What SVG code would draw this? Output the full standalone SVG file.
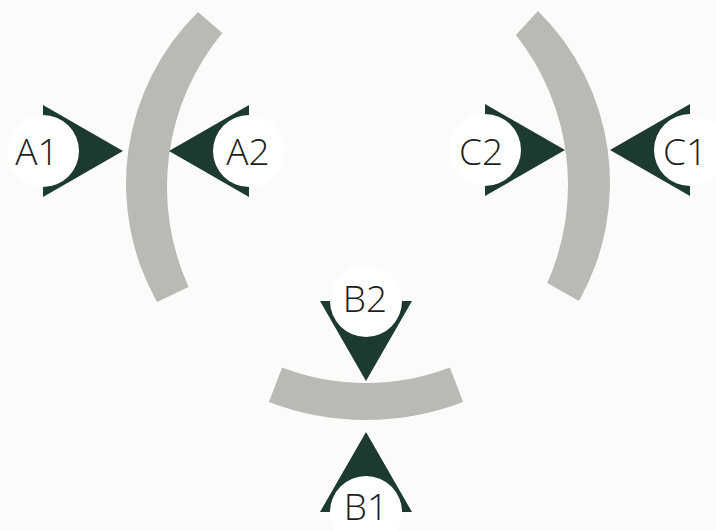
<svg xmlns="http://www.w3.org/2000/svg" xmlns:xlink="http://www.w3.org/1999/xlink" width="716" height="530" viewBox="0 0 716 530">
  <style>
    .band { fill: #b8bbb5; }
    .head { fill: #1d3a2e; }
    .disc { fill: #ffffff; }
    .lbl { font-family: "Open Sans", "Liberation Sans", sans-serif; font-weight: 300; font-size: 37px; fill: #1e1e1e; text-anchor: middle; }
  </style>
  <defs>
    <path id="arrow" class="head" d="M0,-46 L80,0 L0,46 L0,36 A36 36 0 0 0 0,-36 Z"/>
  </defs>
  <rect width="716" height="530" fill="#fbfbfa"/>

  <g id="arcs">
    <path id="arc-A" class="band" d="M198,12 A241 241 0 0 0 157,302 L188.6,287 A242 242 0 0 1 222.3,33 Z"/>
    <path id="arc-C" class="band" d="M538,11 A241 241 0 0 1 579,301 L547.3,283 A242 242 0 0 0 515.9,35 Z"/>
    <path id="arc-B" class="band" d="M282.1,367.5 A234 234 0 0 0 449.9,367.5 L463.1,402 A271 271 0 0 1 268.9,402 Z"/>
  </g>

  <g id="A1">
    <circle class="disc" cx="43" cy="151" r="36"/>
    <use xlink:href="#arrow" href="#arrow" transform="translate(43,151)"/>
    <text class="lbl" x="37" y="165">A1</text>
  </g>
  <g id="A2">
    <circle class="disc" cx="249" cy="151" r="36"/>
    <use xlink:href="#arrow" href="#arrow" transform="translate(249,151) scale(-1,1)"/>
    <text class="lbl" x="248" y="165">A2</text>
  </g>
  <g id="C2">
    <circle class="disc" cx="485" cy="150" r="36"/>
    <use xlink:href="#arrow" href="#arrow" transform="translate(485,150)"/>
    <text class="lbl" x="481" y="165">C2</text>
  </g>
  <g id="C1">
    <circle class="disc" cx="690" cy="150" r="36"/>
    <use xlink:href="#arrow" href="#arrow" transform="translate(690,150) scale(-1,1)"/>
    <text class="lbl" x="685" y="165">C1</text>
  </g>
  <g id="B2">
    <circle class="disc" cx="366" cy="301" r="36"/>
    <use xlink:href="#arrow" href="#arrow" transform="translate(366,301) rotate(90)"/>
    <text class="lbl" x="365" y="312">B2</text>
  </g>
  <g id="B1">
    <circle class="disc" cx="366" cy="512" r="36"/>
    <use xlink:href="#arrow" href="#arrow" transform="translate(366,512) rotate(-90)"/>
    <text class="lbl" x="366" y="520">B1</text>
  </g>
</svg>
